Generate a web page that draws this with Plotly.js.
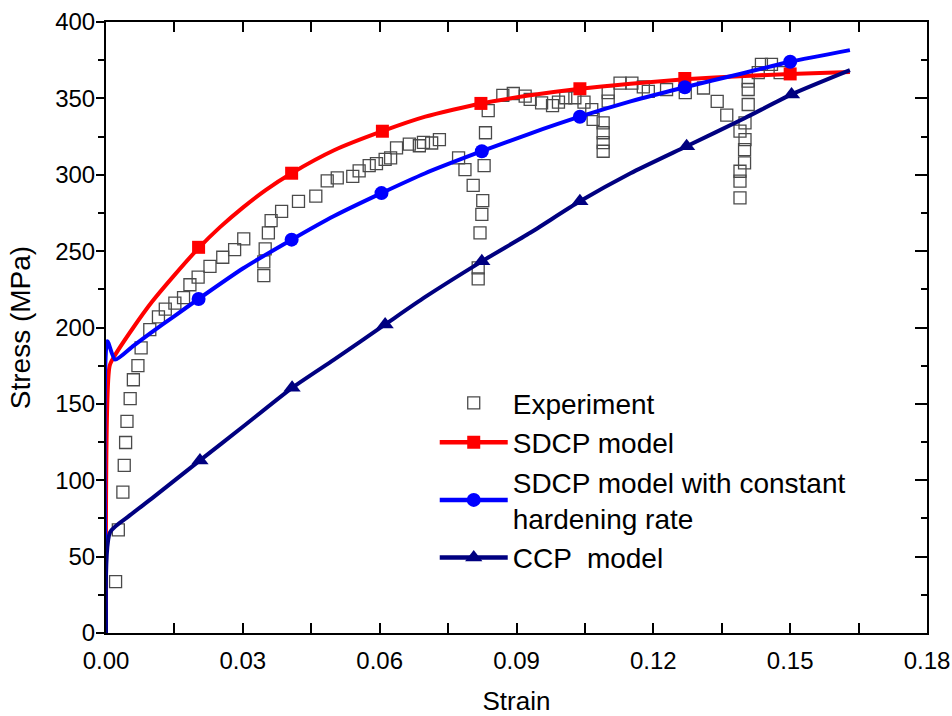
<!DOCTYPE html>
<html>
<head>
<meta charset="utf-8">
<script src="https://cdn.plot.ly/plotly-3.0.1.min.js"></script>
<style>html,body{margin:0;padding:0;background:#fff;}#chart{width:952px;height:716px;}</style>
</head>
<body>
<div id="chart"></div>
<script>
// ---- Experiment (hollow squares) ----
const expStrain = [0.0021,0.0027,0.0037,0.0040,0.0043,0.0046,0.0053,0.0060,0.0070,0.0077,0.0096,0.0115,0.0130,0.0151,0.0170,0.0184,0.0202,0.0228,0.0256,0.0282,0.0302,0.0346,0.0346,0.0349,0.0356,0.0362,0.0385,0.0422,0.0460,0.0485,0.0507,0.0541,0.0555,0.0577,0.0593,0.0612,0.0624,0.0637,0.0665,0.0687,0.0696,0.0714,0.0731,0.0773,0.0787,0.0805,0.0826,0.0824,0.0820,0.0816,0.0816,0.0829,0.0832,0.0838,0.0870,0.0893,0.0919,0.0930,0.0955,0.0979,0.0992,0.1008,0.1028,0.1048,0.1065,0.1068,0.1090,0.1090,0.1090,0.1090,0.1101,0.1101,0.1127,0.1153,0.1178,0.1189,0.1229,0.1270,0.1310,0.1340,0.1361,0.1390,0.1401,0.1401,0.1400,0.1400,0.1390,0.1390,0.1390,0.1408,0.1408,0.1408,0.1430,0.1437,0.1459,0.1478];
const expStress = [33.6,67.5,92.2,109.7,124.7,138.5,153.5,165.8,175.0,186.6,198.6,207.0,212.0,216.0,219.5,228.0,233.0,240.0,246.0,251.0,258.0,234.0,243.0,251.5,262.0,270.0,276.0,282.6,286.0,296.0,298.0,299.0,302.5,306.0,307.3,310.0,311.0,317.6,320.0,319.0,321.2,320.8,323.0,311.0,303.4,293.0,283.0,274.0,262.0,239.0,231.8,306.0,327.5,342.0,352.0,353.2,351.5,349.3,347.0,345.3,347.5,350.4,350.4,347.5,342.7,336.2,334.0,327.5,321.0,315.4,353.7,348.2,360.0,360.0,357.5,354.6,355.8,353.7,356.8,348.0,339.0,328.5,334.0,323.0,316.5,307.8,302.3,295.8,284.8,346.0,355.8,361.3,366.8,372.2,372.2,366.8];

// ---- SDCP model (red) ----
const sdcpStrain = [0,0.0008,0.0020,0.0060,0.0100,0.0150,0.0203,0.0250,0.0300,0.0350,0.0407,0.0500,0.0606,0.0700,0.0822,0.0930,0.1039,0.1150,0.1269,0.1400,0.1500,0.1631];
const sdcpStress = [0,175,182,200,216.5,234.3,252,265.7,278.5,290,301,316,328.5,338,346.7,352,356.3,359.6,362.5,364.6,366,367.3];
const sdcpMarkStrain = [0.0203,0.0407,0.0606,0.0822,0.1039,0.1269,0.1500];
const sdcpMarkStress = [252.5,301,328.5,346.7,356.3,363,366];

// ---- SDCP model with constant hardening rate (blue) ----
const constStrain = [0,0.0003,0.0020,0.0060,0.0096,0.0150,0.0203,0.0300,0.0407,0.0500,0.0604,0.0700,0.0824,0.0930,0.1039,0.1150,0.1269,0.1390,0.1500,0.1631];
const constStress = [0,191,179,188,196,207.5,218.7,238.6,257.5,273,288,301,315.4,327,338,348,357.3,366,374,381.6];
const constMarkStrain = [0.0203,0.0407,0.0604,0.0824,0.1039,0.1269,0.1500];
const constMarkStress = [218.7,257.5,288,315.4,338,357.3,374];

// ---- CCP model (navy) ----
const ccpStrain = [0,0.0009,0.0050,0.0100,0.0206,0.0300,0.0408,0.0500,0.0612,0.0700,0.0824,0.0930,0.1039,0.1150,0.1273,0.1400,0.1503,0.1631];
const ccpStress = [0,66,76.5,88,113,135,160.5,179,202,220,243.3,262,282.6,301,318.7,337,352.6,368.5];
const ccpMarkStrain = [0.0206,0.0408,0.0612,0.0824,0.1039,0.1273,0.1503];
const ccpMarkStress = [113,160.5,202,243.3,282.6,318.7,352.6];

// ---- Axis ticks ----
const xTickVals = [0,0.03,0.06,0.09,0.12,0.15,0.18];
const xTickText = ['0.00','0.03','0.06','0.09','0.12','0.15','0.18'];
const yTickVals = [0,50,100,150,200,250,300,350,400];

const names = ['Experiment','SDCP model','SDCP model with constant<br>hardening rate','CCP  model'];
const RED = '#ff0000', BLUE = '#0000ff', NAVY = '#000080', GREY = '#4a4a4a';
const FONT = 'Liberation Sans, Arial, sans-serif';

function curve(x, y, color) {
  return {x: x, y: y, mode: 'lines', line: {color: color, width: 4, shape: 'spline', smoothing: 0.6},
          showlegend: false, hoverinfo: 'skip'};
}
function marks(x, y, color, sym, size) {
  return {x: x, y: y, mode: 'markers', marker: {color: color, symbol: sym, size: size}, showlegend: false, hoverinfo: 'skip'};
}
function legendItem(name, color, sym, size) {
  return {x: [null], y: [null], name: name, mode: 'lines+markers', line: {color: color, width: 4.5}, marker: {color: color, symbol: sym, size: size}};
}

const data = [
  {x: expStrain, y: expStress, name: names[0], mode: 'markers',
   marker: {symbol: 'square-open', size: 12, color: GREY, line: {width: 1.3, color: GREY}}},
  curve(sdcpStrain, sdcpStress, RED),
  marks(sdcpMarkStrain, sdcpMarkStress, RED, 'square', 13),
  curve(constStrain, constStress, BLUE),
  marks(constMarkStrain, constMarkStress, BLUE, 'circle', 14),
  curve(ccpStrain, ccpStress, NAVY),
  marks(ccpMarkStrain, ccpMarkStress, NAVY, 'triangle-up', 15),
  legendItem(names[1], RED, 'square', 13),
  legendItem(names[2], BLUE, 'circle', 14),
  legendItem(names[3], NAVY, 'triangle-up', 15),
  {x: [null], y: [null], yaxis: 'y2', showlegend: false, hoverinfo: 'skip', mode: 'markers'}
];

const layout = {
  width: 952, height: 716,
  margin: {l: 106, r: 25, t: 22, b: 83},
  paper_bgcolor: '#fff', plot_bgcolor: '#fff',
  font: {family: FONT, color: '#000'},
  showlegend: true,
  legend: {x: 0.4004, y: 0.417, xanchor: 'left', yanchor: 'top', bgcolor: 'rgba(0,0,0,0)',
           font: {size: 28, family: FONT, color: '#000'}, itemwidth: 68, tracegroupgap: 0},
  xaxis: {
    range: [0, 0.18], tickvals: xTickVals, ticktext: xTickText,
    ticks: 'inside', ticklen: 10, tickwidth: 2, tickcolor: '#000',
    minor: {dtick: 0.015, tick0: 0, ticks: 'inside', ticklen: 6, tickwidth: 2, tickcolor: '#000', showgrid: false},
    showline: true, linewidth: 2, linecolor: '#000', mirror: 'allticks',
    showgrid: false, zeroline: false,
    tickfont: {size: 24, family: 'Liberation Sans Narrow, Liberation Sans, Arial, sans-serif'},
    ticklabelstandoff: 5,
    title: {text: 'Strain', font: {size: 26, family: FONT}, standoff: 28}
  },
  yaxis: {
    range: [0, 400], tickvals: yTickVals,
    ticks: 'outside', ticklen: 8, tickwidth: 2, tickcolor: '#000',
    minor: {dtick: 25, tick0: 0, ticks: 'outside', ticklen: 6, tickwidth: 2, tickcolor: '#000', showgrid: false},
    showline: true, linewidth: 2, linecolor: '#000', mirror: true,
    showgrid: false, zeroline: false,
    tickfont: {size: 24, family: FONT},
    ticklabelstandoff: -4,
    title: {text: 'Stress (MPa)', font: {size: 28, family: FONT}, standoff: 16}
  },
  yaxis2: {
    overlaying: 'y', side: 'right', range: [0, 400], tickvals: yTickVals,
    ticks: 'inside', ticklen: 12, tickwidth: 2, tickcolor: '#000',
    minor: {dtick: 25, tick0: 0, ticks: 'inside', ticklen: 6, tickwidth: 2, tickcolor: '#000', showgrid: false},
    showticklabels: false, showgrid: false, zeroline: false, showline: false
  }
};

Plotly.newPlot('chart', data, layout, {displayModeBar: false, staticPlot: true});
</script>
</body>
</html>
